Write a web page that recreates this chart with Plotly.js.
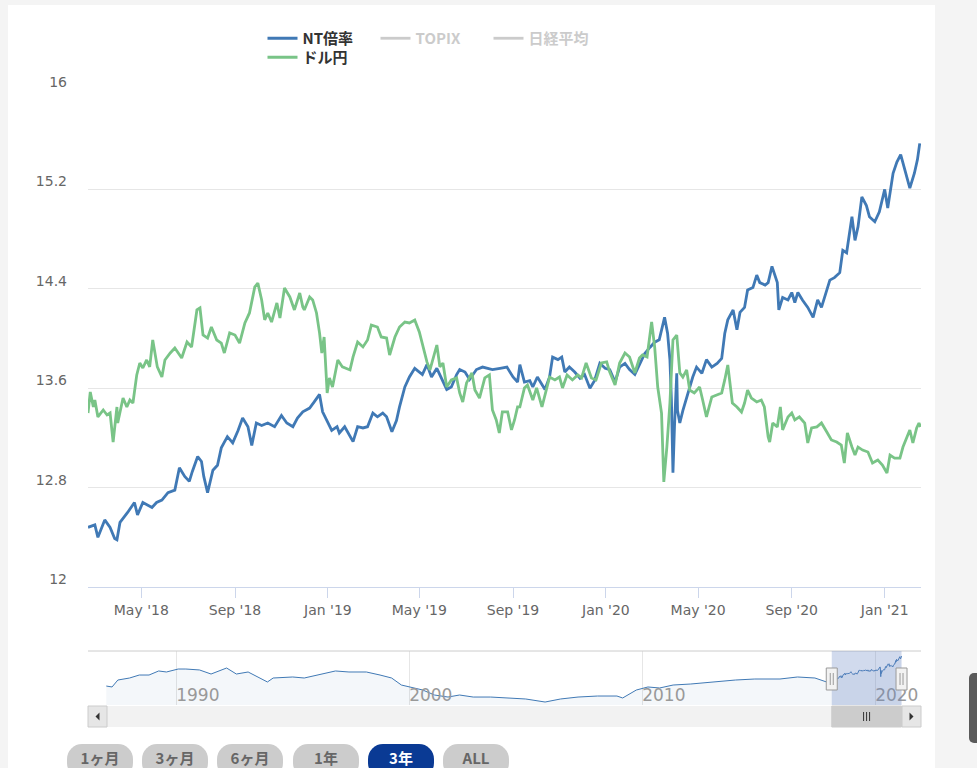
<!DOCTYPE html>
<html>
<head>
<meta charset="utf-8">
<script src="https://cdn.plot.ly/plotly-3.0.1.min.js"></script>
<style>
html,body{margin:0;padding:0;background:#f4f4f4;width:977px;height:768px;overflow:hidden;}
#card{position:absolute;left:8px;top:5px;width:927px;height:800px;background:#fff;}
#chart{position:absolute;left:0;top:0;width:977px;height:768px;}
.btn{position:absolute;top:744px;width:66px;height:34px;border-radius:15px;background:#cccccc;color:#666;
 font-family:"Noto Sans CJK JP",sans-serif;font-weight:bold;font-size:15px;text-align:center;line-height:27px;}
.btn.on{background:#0a3a94;color:#fff;}
#side{position:absolute;left:969px;top:673px;width:16px;height:70px;background:#5a5a5a;border-radius:5px;}
</style>
</head>
<body>
<div id="card"></div>
<div id="chart"></div>
<div class="btn" style="left:67px">1ヶ月</div>
<div class="btn" style="left:142px">3ヶ月</div>
<div class="btn" style="left:217px">6ヶ月</div>
<div class="btn" style="left:293px">1年</div>
<div class="btn on" style="left:368px">3年</div>
<div class="btn" style="left:443px">ALL</div>
<div id="side"></div>
<script>
// NT倍率 (last 3 years)
var ntDates = ['2018-02-20','2018-03-01','2018-03-05','2018-03-14','2018-03-21','2018-03-27','2018-03-30','2018-04-03','2018-04-13','2018-04-22','2018-04-26','2018-05-03','2018-05-15','2018-05-21','2018-05-28','2018-06-05','2018-06-14','2018-06-20','2018-06-27','2018-07-03','2018-07-07','2018-07-14','2018-07-19','2018-07-22','2018-07-27','2018-08-03','2018-08-09','2018-08-14','2018-08-22','2018-08-29','2018-09-05','2018-09-11','2018-09-18','2018-09-23','2018-09-29','2018-10-06','2018-10-14','2018-10-23','2018-11-01','2018-11-08','2018-11-16','2018-11-22','2018-11-29','2018-12-08','2018-12-14','2018-12-21','2018-12-25','2019-01-01','2019-01-06','2019-01-13','2019-01-16','2019-01-23','2019-01-27','2019-02-03','2019-02-09','2019-02-16','2019-02-22','2019-03-01','2019-03-07','2019-03-14','2019-03-19','2019-03-26','2019-04-01','2019-04-05','2019-04-12','2019-04-18','2019-04-25','2019-05-01','2019-05-05','2019-05-11','2019-05-17','2019-05-24','2019-05-30','2019-06-06','2019-06-12','2019-06-19','2019-06-23','2019-06-30','2019-07-06','2019-07-15','2019-07-23','2019-07-30','2019-08-05','2019-08-15','2019-08-24','2019-09-01','2019-09-07','2019-09-10','2019-09-16','2019-09-23','2019-09-27','2019-10-03','2019-10-13','2019-10-19','2019-10-23','2019-10-30','2019-11-04','2019-11-08','2019-11-14','2019-11-21','2019-11-28','2019-12-04','2019-12-11','2019-12-17','2019-12-24','2019-12-31','2020-01-06','2020-01-13','2020-01-19','2020-01-26','2020-02-01','2020-02-08','2020-02-14','2020-02-21','2020-02-28','2020-03-05','2020-03-11','2020-03-18','2020-03-22','2020-03-25','2020-03-27','2020-03-29','2020-03-31','2020-04-03','2020-04-04','2020-04-07','2020-04-11','2020-04-16','2020-04-20','2020-04-24','2020-04-29','2020-05-06','2020-05-12','2020-05-19','2020-05-26','2020-06-01','2020-06-05','2020-06-09','2020-06-16','2020-06-18','2020-06-21','2020-06-25','2020-07-01','2020-07-05','2020-07-12','2020-07-17','2020-07-21','2020-07-28','2020-08-01','2020-08-06','2020-08-13','2020-08-15','2020-08-20','2020-08-27','2020-09-01','2020-09-05','2020-09-09','2020-09-15','2020-09-22','2020-09-29','2020-10-05','2020-10-10','2020-10-14','2020-10-21','2020-10-27','2020-11-03','2020-11-07','2020-11-12','2020-11-19','2020-11-23','2020-11-27','2020-12-02','2020-12-08','2020-12-12','2020-12-19','2020-12-25','2021-01-01','2021-01-05','2021-01-12','2021-01-17','2021-01-22','2021-01-27','2021-02-03','2021-02-09','2021-02-13','2021-02-16'];
var ntValues = [12.48,12.50,12.40,12.54,12.48,12.39,12.38,12.52,12.60,12.68,12.58,12.68,12.64,12.68,12.70,12.76,12.78,12.96,12.89,12.85,12.93,13.05,13.01,12.89,12.76,12.94,12.98,13.12,13.21,13.16,13.26,13.36,13.29,13.14,13.32,13.30,13.32,13.29,13.38,13.32,13.29,13.36,13.41,13.44,13.49,13.55,13.41,13.32,13.26,13.29,13.24,13.29,13.25,13.17,13.29,13.28,13.29,13.40,13.37,13.40,13.37,13.25,13.34,13.45,13.61,13.69,13.76,13.73,13.71,13.79,13.69,13.76,13.68,13.59,13.61,13.71,13.75,13.73,13.67,13.75,13.77,13.76,13.75,13.76,13.77,13.69,13.65,13.79,13.65,13.66,13.61,13.69,13.59,13.69,13.85,13.83,13.85,13.73,13.77,13.73,13.68,13.71,13.60,13.66,13.80,13.76,13.75,13.65,13.77,13.80,13.75,13.71,13.79,13.88,13.93,13.97,13.99,14.17,14.04,13.83,13.50,12.92,13.29,13.72,13.42,13.32,13.42,13.53,13.61,13.69,13.77,13.72,13.83,13.77,13.80,13.84,14.04,14.15,14.23,14.15,14.07,14.21,14.25,14.39,14.41,14.51,14.45,14.43,14.45,14.58,14.45,14.23,14.33,14.31,14.37,14.29,14.37,14.31,14.25,14.17,14.31,14.25,14.33,14.47,14.49,14.53,14.71,14.69,14.98,14.79,14.90,15.14,15.07,14.98,14.94,15.02,15.20,15.05,15.33,15.42,15.48,15.36,15.21,15.33,15.44,15.57];

// ドル円
var usdDates = ['2018-02-20','2018-02-23','2018-02-27','2018-03-01','2018-03-05','2018-03-12','2018-03-17','2018-03-21','2018-03-25','2018-03-30','2018-03-31','2018-04-07','2018-04-12','2018-04-16','2018-04-20','2018-04-25','2018-04-29','2018-05-03','2018-05-08','2018-05-12','2018-05-16','2018-05-22','2018-05-28','2018-06-01','2018-06-08','2018-06-14','2018-06-23','2018-06-30','2018-07-06','2018-07-13','2018-07-17','2018-07-21','2018-07-27','2018-08-01','2018-08-08','2018-08-14','2018-08-18','2018-08-25','2018-09-01','2018-09-07','2018-09-14','2018-09-20','2018-09-27','2018-10-01','2018-10-06','2018-10-10','2018-10-14','2018-10-19','2018-10-26','2018-10-30','2018-11-05','2018-11-12','2018-11-18','2018-11-25','2018-11-29','2018-12-01','2018-12-08','2018-12-12','2018-12-17','2018-12-21','2018-12-24','2018-12-27','2018-12-31','2019-01-03','2019-01-07','2019-01-14','2019-01-20','2019-01-30','2019-02-03','2019-02-09','2019-02-16','2019-02-22','2019-02-27','2019-03-07','2019-03-12','2019-03-19','2019-03-23','2019-03-30','2019-04-05','2019-04-12','2019-04-18','2019-04-25','2019-05-01','2019-05-05','2019-05-11','2019-05-15','2019-05-19','2019-05-24','2019-05-28','2019-06-01','2019-06-06','2019-06-12','2019-06-19','2019-06-23','2019-06-27','2019-07-02','2019-07-09','2019-07-13','2019-07-19','2019-07-26','2019-08-01','2019-08-05','2019-08-10','2019-08-14','2019-08-18','2019-08-25','2019-08-30','2019-09-03','2019-09-07','2019-09-10','2019-09-16','2019-09-20','2019-09-27','2019-10-02','2019-10-09','2019-10-15','2019-10-19','2019-10-26','2019-11-01','2019-11-05','2019-11-11','2019-11-18','2019-11-25','2019-11-30','2019-12-06','2019-12-13','2019-12-19','2019-12-26','2020-01-02','2020-01-06','2020-01-13','2020-01-19','2020-01-26','2020-02-01','2020-02-08','2020-02-14','2020-02-18','2020-02-24','2020-03-01','2020-03-05','2020-03-09','2020-03-14','2020-03-17','2020-03-21','2020-03-25','2020-03-29','2020-04-03','2020-04-07','2020-04-11','2020-04-16','2020-04-20','2020-04-26','2020-05-03','2020-05-07','2020-05-12','2020-05-19','2020-05-26','2020-06-01','2020-06-05','2020-06-09','2020-06-15','2020-06-21','2020-06-27','2020-07-01','2020-07-05','2020-07-10','2020-07-17','2020-07-23','2020-07-27','2020-08-01','2020-08-03','2020-08-07','2020-08-13','2020-08-17','2020-08-20','2020-08-27','2020-09-01','2020-09-05','2020-09-11','2020-09-18','2020-09-22','2020-09-27','2020-10-04','2020-10-10','2020-10-17','2020-10-23','2020-10-30','2020-11-05','2020-11-09','2020-11-13','2020-11-19','2020-11-23','2020-11-27','2020-12-03','2020-12-10','2020-12-16','2020-12-23','2020-12-29','2021-01-04','2021-01-08','2021-01-14','2021-01-21','2021-01-25','2021-01-30','2021-02-03','2021-02-07','2021-02-12','2021-02-15','2021-02-17'];
var usdValues = [105.83,107.22,106.23,106.69,105.57,106.03,105.70,105.83,103.91,106.23,105.17,106.82,106.23,106.69,106.49,108.35,109.14,108.81,109.34,108.88,110.66,108.88,108.21,109.34,109.80,110.13,109.47,110.53,110.20,112.65,112.78,110.99,110.79,111.52,110.66,110.46,109.80,111.13,110.99,110.46,111.79,112.45,114.17,114.43,113.31,111.99,112.45,111.85,113.11,112.12,114.10,113.51,112.65,113.77,112.85,112.65,113.51,113.31,112.45,111.13,109.80,110.86,107.16,108.15,107.55,109.34,108.88,108.68,109.54,110.53,110.20,110.66,111.65,111.52,110.86,110.79,109.67,110.86,111.52,111.85,111.79,111.99,111.19,110.33,109.21,108.68,109.47,110.33,108.88,109.14,107.55,108.02,108.15,107.16,106.56,107.82,108.48,107.35,106.82,108.15,108.35,106.03,105.37,104.51,105.90,105.90,104.71,105.37,106.23,106.23,107.49,107.68,106.69,107.49,106.23,107.35,108.21,108.02,108.21,107.49,108.35,108.02,108.35,108.15,109.14,108.15,108.02,109.14,109.21,108.54,107.68,109.14,109.80,109.54,108.48,109.47,109.67,109.54,111.85,110.20,107.55,105.83,101.27,103.58,106.49,110.66,110.99,108.48,108.21,108.68,107.35,107.16,107.55,106.69,105.57,106.89,107.02,107.16,108.02,109.01,106.49,106.23,105.90,106.49,107.35,106.82,106.56,106.69,106.23,104.24,103.91,105.17,104.91,106.23,104.71,105.57,105.83,105.37,105.57,105.17,103.85,104.84,104.91,105.17,104.57,104.05,103.91,103.71,102.52,104.51,103.58,103.05,103.58,103.38,103.25,102.52,102.72,102.39,101.86,103.05,102.85,102.85,103.58,104.24,104.71,103.85,104.84,105.17,104.91];

// NT倍率 long history (navigator)
var navDates = ['1987-01-01','1987-04-01','1987-07-01','1988-01-01','1988-06-01','1988-11-01','1989-04-01','1989-08-01','1990-02-01','1990-06-01','1991-01-01','1991-07-01','1992-03-01','1992-08-01','1993-02-01','1993-07-01','1993-12-01','1994-03-01','1995-01-01','1995-07-01','1996-02-01','1996-11-01','1997-06-01','1998-03-01','1998-10-01','1999-04-01','1999-09-01','2000-02-01','2000-08-01','2001-02-01','2001-09-01','2002-03-01','2002-10-01','2003-07-01','2004-05-01','2005-01-01','2005-11-01','2006-07-01','2007-04-01','2008-02-01','2008-12-01','2009-03-01','2009-10-01','2010-04-01','2010-10-01','2011-05-01','2012-02-01','2012-12-01','2014-01-01','2014-11-01','2015-12-01','2016-09-01','2017-06-01','2017-12-01'];
var navValues = [11.72,11.60,12.49,12.75,13.13,13.13,13.65,13.52,13.90,13.90,13.78,13.26,14.03,13.26,13.52,12.88,12.24,12.75,12.88,12.75,13.13,13.65,13.52,13.52,13.13,12.75,11.85,11.60,11.21,10.57,10.31,10.57,10.31,10.31,10.19,10.06,9.67,10.06,10.31,10.44,10.44,10.19,11.21,11.60,11.47,11.85,11.98,12.24,12.49,12.62,12.62,12.88,12.75,12.24];

// series names / legend labels
var seriesNames = ['NT倍率','TOPIX','日経平均','ドル円'];
var viewStart = '2018-02-20';
var viewEnd = '2021-02-17 16:00';
var navStart = '1986-03-20';
var navEnd = '2021-12-20';

var BLUE = '#4079b5', GREEN = '#79c487';

var traces = [
  {x: ntDates, y: ntValues, name: seriesNames[0], type:'scatter', mode:'lines',
   line:{color:BLUE, width:2.8}, xaxis:'x', yaxis:'y', legend:'legend'},
  {x: [viewStart], y: [null], name: '<span style="color:#999">'+seriesNames[1]+'</span>', type:'scatter', mode:'lines',
   line:{color:'#999', width:2.8}, visible:'legendonly', legend:'legend'},
  {x: [viewStart], y: [null], name: '<span style="color:#999">'+seriesNames[2]+'</span>', type:'scatter', mode:'lines',
   line:{color:'#999', width:2.8}, visible:'legendonly', legend:'legend'},
  {x: usdDates, y: usdValues, name: seriesNames[3], type:'scatter', mode:'lines',
   line:{color:GREEN, width:2.8}, xaxis:'x', yaxis:'y2', legend:'legend2'},
  {x: navDates.concat(ntDates), y: navValues.concat(ntValues), type:'scatter', mode:'lines',
   line:{color:BLUE, width:1}, fill:'tozeroy', fillcolor:'rgba(69,114,167,0.06)',
   xaxis:'x2', yaxis:'y3', showlegend:false, hoverinfo:'skip'}
];

// pixel helpers for paper coords (plot area x 88..921, y 90..705)
function px(v){ return (v-88)/833; }
function py(v){ return (705-v)/615; }

var shapes = [
  {type:'line', xref:'paper', yref:'paper', x0:0, x1:1, y0:py(651), y1:py(651), line:{color:'#cccccc', width:1}},
  {type:'rect', xref:'paper', yref:'paper', x0:0, x1:1, y0:py(727), y1:py(706), fillcolor:'#f2f2f2', line:{width:0}},
  {type:'rect', xref:'paper', yref:'paper', x0:0, x1:px(107), y0:py(727), y1:py(706), fillcolor:'#e6e6e6', line:{color:'#cccccc', width:1}},
  {type:'rect', xref:'paper', yref:'paper', x0:px(902), x1:1, y0:py(727), y1:py(706), fillcolor:'#e6e6e6', line:{color:'#cccccc', width:1}},
  {type:'path', xref:'paper', yref:'paper', xsizemode:'pixel', ysizemode:'pixel', xanchor:px(97.5), yanchor:py(716.5),
   path:'M2,-4 L-2,0 L2,4 Z', fillcolor:'#333', line:{width:0}},
  {type:'path', xref:'paper', yref:'paper', xsizemode:'pixel', ysizemode:'pixel', xanchor:px(911.5), yanchor:py(716.5),
   path:'M-2,-4 L2,0 L-2,4 Z', fillcolor:'#333', line:{width:0}},
  {type:'rect', xref:'x2', yref:'paper', x0:viewStart, x1:viewEnd, y0:py(727), y1:py(706), fillcolor:'#cccccc', line:{color:'#cccccc', width:1}},
  {type:'rect', xref:'x2', yref:'paper', x0:viewStart, x1:viewEnd, y0:0, y1:py(651), fillcolor:'rgba(102,133,194,0.3)', line:{width:0}, layer:'above'}
];
[-3,0,3].forEach(function(o){
  shapes.push({type:'line', xref:'x2', yref:'paper', xsizemode:'pixel', xanchor:'2019-08-20', x0:o, x1:o,
    y0:py(721), y1:py(712), line:{color:'#333', width:1}});
});
[viewStart, viewEnd].forEach(function(a){
  shapes.push({type:'rect', xref:'x2', yref:'paper', xsizemode:'pixel', xanchor:a, x0:-5.5, x1:5.5,
    y0:py(690), y1:py(668), fillcolor:'#f2f2f2', line:{color:'#999', width:1}});
  [-1.5,1.5].forEach(function(o){
    shapes.push({type:'line', xref:'x2', yref:'paper', xsizemode:'pixel', xanchor:a, x0:o, x1:o,
      y0:py(685), y1:py(673), line:{color:'#999', width:1}});
  });
});

var legFont = {family:'"Noto Sans CJK JP", sans-serif', size:15, color:'#333', weight:'bold'};

var layout = {
  width:977, height:768,
  paper_bgcolor:'rgba(0,0,0,0)', plot_bgcolor:'rgba(0,0,0,0)',
  margin:{l:88, r:56, t:90, b:63},
  showlegend:true, hovermode:false,
  font:{family:'DejaVu Sans, sans-serif', color:'#666'},
  legend:{orientation:'h', xref:'container', yref:'container', x:262.5/977, y:1-22/768, xanchor:'left', yanchor:'top',
    font:legFont, entrywidth:68, bgcolor:'rgba(0,0,0,0)', itemclick:false, itemdoubleclick:false},
  legend2:{orientation:'h', xref:'container', yref:'container', x:262.5/977, y:1-41/768, xanchor:'left', yanchor:'top',
    font:legFont, entrywidth:68, bgcolor:'rgba(0,0,0,0)', itemclick:false, itemdoubleclick:false},
  xaxis:{type:'date', range:[viewStart, viewEnd], domain:[0,1], anchor:'y',
    tick0:'2018-01-01', dtick:'M4', tickformat:"%b '%y",
    ticks:'outside', ticklen:10, tickcolor:'#ccd6eb', showline:true, linecolor:'#ccd6eb', linewidth:1,
    showgrid:false, zeroline:false, tickfont:{family:'DejaVu Sans, sans-serif', size:14, color:'#666'}, fixedrange:true},
  yaxis:{domain:[py(587),1], range:[12,16], tick0:12, dtick:0.8, anchor:'x',
    gridcolor:'#e6e6e6', gridwidth:1, showline:false, zeroline:false, ticks:'',
    ticklabelstandoff:20, ticklabelshift:-8,
    tickfont:{family:'DejaVu Sans, sans-serif', size:14, color:'#666'}, fixedrange:true},
  yaxis2:{overlaying:'y', anchor:'x', range:[94.32,127.2], visible:false, fixedrange:true},
  xaxis2:{type:'date', anchor:'y3', domain:[0,1], range:[navStart, navEnd],
    tick0:'1990-01-01', dtick:'M120', tickformat:'%Y', ticklabelposition:'inside right',
    ticklabelstandoff:-5,
    showgrid:true, gridcolor:'#e6e6e6', ticks:'', showline:false, zeroline:false,
    tickfont:{family:'DejaVu Sans, sans-serif', size:17, color:'#999'}, fixedrange:true},
  yaxis3:{domain:[0, py(651)], range:[9.29,16.21], anchor:'x2', visible:false, fixedrange:true},
  shapes:shapes
};

Plotly.newPlot('chart', traces, layout, {displayModeBar:false, staticPlot:true});
</script>
</body>
</html>
